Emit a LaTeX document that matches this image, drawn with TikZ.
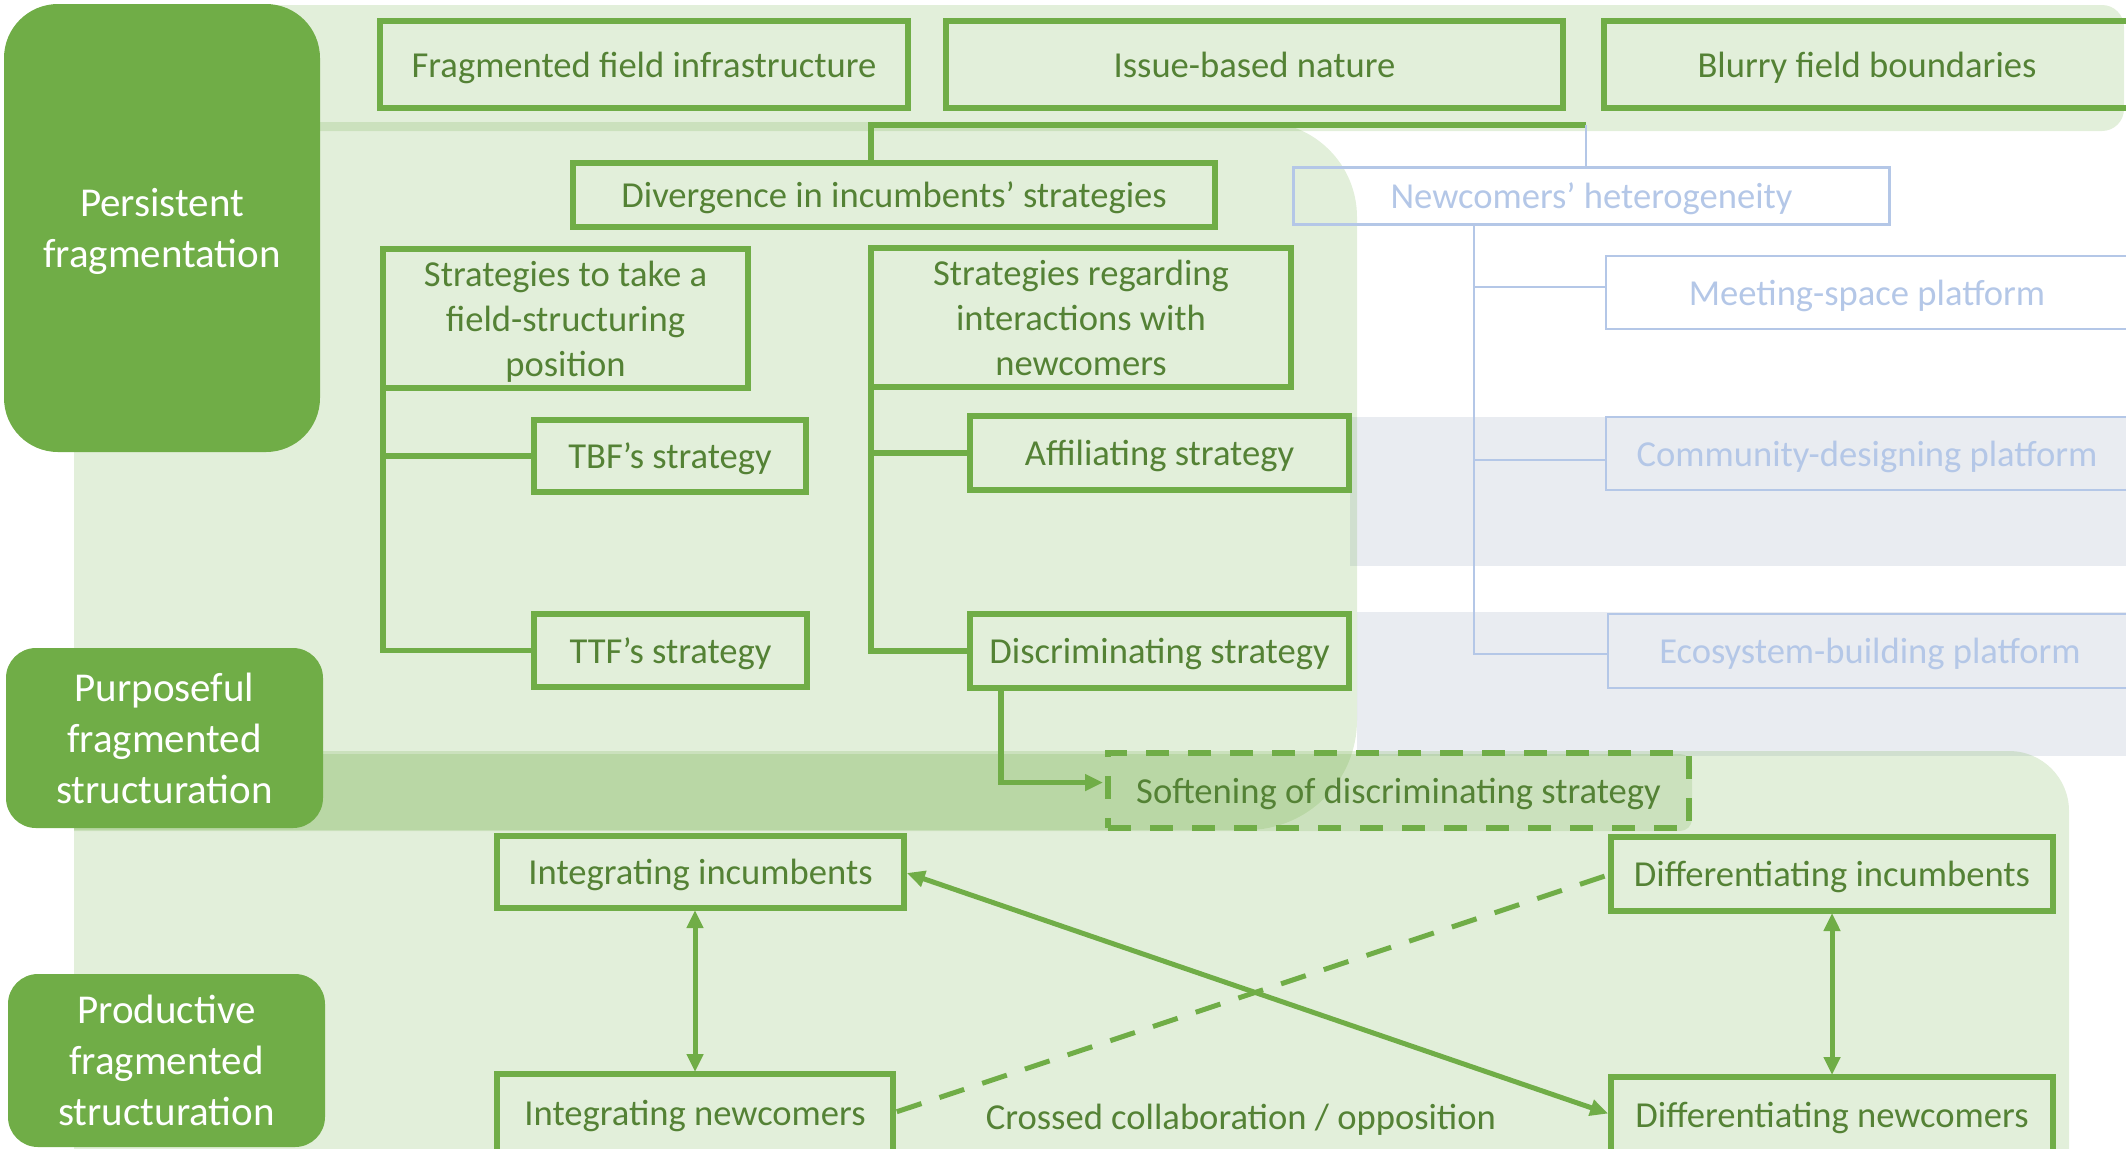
\documentclass[tikz,border=0pt]{standalone}
\usepackage{fontspec}
\setmainfont{Carlito}
\usetikzlibrary{arrows.meta,calc}
\definecolor{gmain}{HTML}{70AD47}
\definecolor{gtext}{HTML}{548235}
\definecolor{bline}{HTML}{B4C7E7}
\definecolor{grayband}{HTML}{E9ECF1}
\newcommand\bx[7]{\node[#2,minimum width={(#5-#3)*0.5pt},minimum height={(#6-#4)*0.5pt}] (#1) at ({(#3+#5)/2},{(#4+#6)/2}) {#7};}
\begin{document}
\begin{tikzpicture}[x=0.5pt,y=-0.5pt,
  panel/.style={fill=gmain,fill opacity=0.2,draw=none},
  boxtext/.style={font=\fontsize{18.3}{22.4}\selectfont,align=center,inner sep=0pt,outer sep=0pt,text depth=0pt},
  gbox/.style={boxtext,draw=gmain,line width=3pt,text=gtext},
  dbox/.style={gbox,dash pattern=on 11.5pt off 9.5pt},
  bbox/.style={boxtext,draw=bline,line width=1.4pt,text=bline},
  lbl/.style={fill=gmain,draw=none,text=white,font=\fontsize{20.5}{25.5}\selectfont,align=center,inner sep=0pt,text depth=0pt},
  conn/.style={draw=gmain,line width=2.75pt},
  thin/.style={draw=gmain,line width=2.5pt},
  bconn/.style={draw=bline,line width=1.4pt},
  tip/.tip={Triangle[length=9pt,width=8pt]}
]
\useasboundingbox (0,0) rectangle (2126,1148);
% gray bands
\fill[grayband] (1350,417) rectangle (2130,566);
\fill[grayband] (1357,612) rectangle (2130,756);
% translucent panels
\fill[panel] (200,5) -- (2102,5) arc(-90:0:22) -- (2124,109) arc(0:90:22) -- (200,131) -- cycle;
\fill[panel] (74,830) -- (74,122) -- (1262,122) arc(-90:0:95) -- (1357,720) arc(0:90:110) -- cycle;
\fill[panel] (74,1160) -- (74,751) -- (2009,751) arc(-90:0:60) -- (2069,1160) -- cycle;
\fill[panel] (74,754) -- (1680,754) arc(-90:0:12) -- (1692,819) arc(0:90:12) -- (74,831) -- cycle;
% phase labels
\bx{pf}{lbl,rounded corners=27pt}{4}{4}{320}{452}{Persistent\\fragmentation}
\bx{pu}{lbl,rounded corners=15pt}{6}{648}{323}{828}{Purposeful\\fragmented\\structuration}
\bx{pr}{lbl,rounded corners=15pt}{8}{974}{325}{1147}{Productive\\fragmented\\structuration}
% green boxes
\bx{fr}{gbox}{380}{21}{908}{108}{Fragmented field infrastructure}
\bx{ib}{gbox}{946}{21}{1563}{108}{Issue-based nature}
\bx{bf}{gbox}{1604}{21}{2130}{108}{Blurry field boundaries}
\bx{div}{gbox}{573}{163}{1215}{227}{Divergence in incumbents’ strategies}
\bx{s1}{gbox}{383}{249}{748}{388}{Strategies to take a\\field-structuring\\position}
\bx{s2}{gbox}{871}{248}{1291}{387}{Strategies regarding\\interactions with\\newcomers}
\bx{tbf}{gbox}{534}{420}{806}{492}{TBF’s strategy}
\bx{ttf}{gbox}{534}{614}{807}{687}{TTF’s strategy}
\bx{aff}{gbox}{970}{416}{1349}{490}{Affiliating strategy}
\bx{dis}{gbox}{970}{614}{1349}{688}{Discriminating strategy}
\bx{soft}{dbox}{1108}{753}{1689}{828}{Softening of discriminating strategy}
\bx{ii}{gbox}{497}{836}{904}{908}{Integrating incumbents}
\bx{in}{gbox}{497}{1074}{893}{1152}{Integrating newcomers}
\bx{di}{gbox}{1611}{837}{2053}{911}{Differentiating incumbents}
\bx{dn}{gbox}{1611}{1077}{2053}{1152}{Differentiating newcomers}
% blue boxes
\bx{nh}{bbox}{1293.5}{167.5}{1889.5}{224.5}{Newcomers’ heterogeneity}
\bx{ms}{bbox}{1606}{256}{2128}{329}{Meeting-space platform}
\bx{cd}{bbox}{1606}{417}{2128}{490}{Community-designing platform}
\bx{eb}{bbox}{1608}{614}{2132}{688}{Ecosystem-building platform}
% top junction
\coordinate (jn) at (1586,125);
\coordinate (jd) at (871,125);
\draw[conn] (jn) -- (jd) -- (jd |- div.north);
\draw[bconn] (jn) -- (jn |- nh.north);
% blue tree
\coordinate (bt) at (1474,0);
\draw[bconn] (bt |- nh.south) |- ($(eb.west)+(0,3)$);
\draw[bconn] (bt |- ms.west) ++(0,-5.5) -- ($(ms.west)+(0,-5.5)$);
\draw[bconn] (bt |- cd.west) ++(0,6.5) -- ($(cd.west)+(0,6.5)$);
% green trees
\draw[conn] ($(s1.south west)+(0,-45)$) |- (ttf.west);
\draw[conn] (s1.west |- tbf.west) -- (tbf.west);
\draw[conn] (s2.south west) |- (dis.west);
\draw[conn] (s2.west |- aff.west) -- (aff.west);
% to softening
\draw[conn,-tip] ($(dis.south west)+(31,0)$) |- ($(soft.west)+(-5,-8)$);
% bottom relations
\draw[thin,tip-tip,shorten <=1pt,shorten >=1pt] (in.north |- ii.south) -- (in.north);
\draw[thin,tip-tip,shorten <=1pt,shorten >=1pt] (di.south) -- (dn.north);
\draw[thin,tip-tip,shorten <=1.5pt,shorten >=1.5pt] (ii.east) -- (dn.west);
\draw[thin,dash pattern=on 13pt off 9.5pt,shorten <=2pt] (in.east) -- (di.west);
\node[boxtext,text=gtext] (cc) at (1241,1117) {Crossed collaboration / opposition};
\end{tikzpicture}
\end{document}
